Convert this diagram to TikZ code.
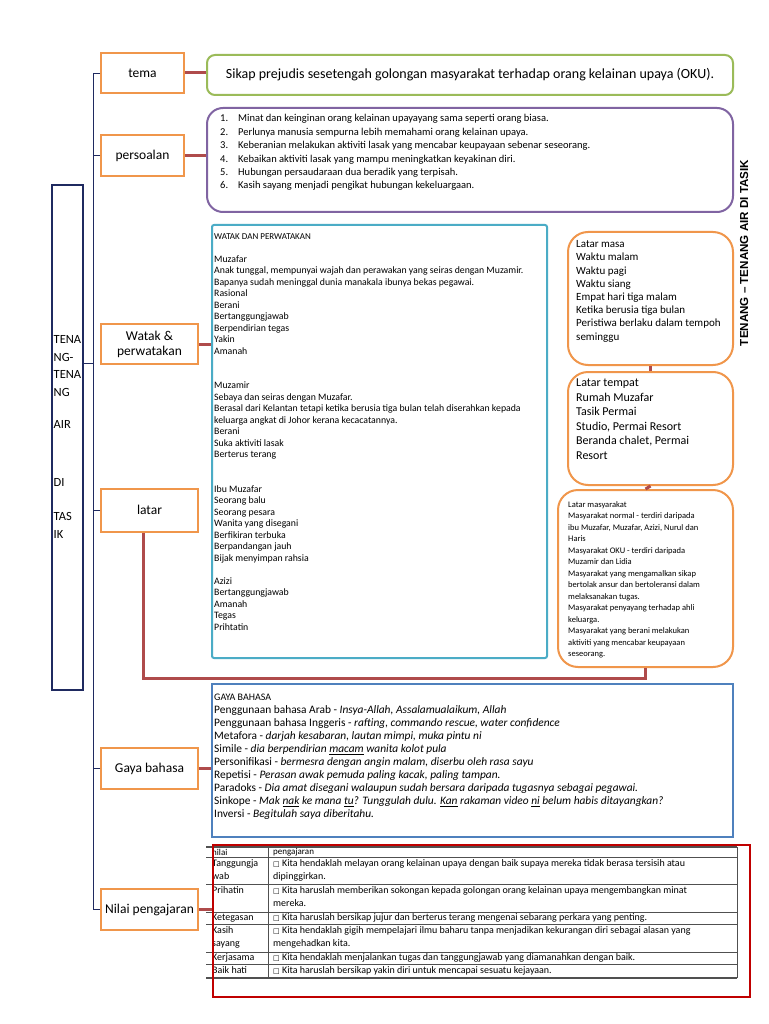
\documentclass[tikz,border=0pt]{standalone}
\usepackage{fontspec}
\setmainfont{Carlito}
\newfontfamily\arialb{Liberation Sans}
\newfontfamily\dvs{DejaVu Sans}
\definecolor{orC}{RGB}{240,150,75}
\definecolor{grC}{RGB}{155,187,89}
\definecolor{puC}{RGB}{128,100,162}
\definecolor{teC}{RGB}{75,172,198}
\definecolor{blC}{RGB}{79,129,189}
\definecolor{rdC}{RGB}{192,0,0}
\definecolor{mrC}{RGB}{175,75,75}
\definecolor{nvC}{RGB}{31,42,96}
\definecolor{tgC}{RGB}{80,80,80}
\newcommand{\sqb}{{\dvs\fontsize{7}{7}\selectfont □}}
\begin{document}
\begin{tikzpicture}[x=1pt,y=-1pt,
 obox/.style={draw=orC,line width=2pt,inner sep=0pt,align=center,font=\fontsize{13.5}{15}\selectfont},
 stub/.style={draw=mrC,line width=3pt},
 navl/.style={draw=nvC,line width=0.8pt},
 txt/.style={inner sep=0pt,anchor=north west,align=left},
 cell/.style={inner sep=0pt,anchor=west,font=\fontsize{10}{13}\selectfont},
 cell2/.style={inner sep=0pt,anchor=north west,align=left,font=\fontsize{10}{13}\selectfont},
 tline/.style={draw=tgC,line width=0.8pt},
 ]
\useasboundingbox (0,0) rectangle (768,1024);
\fill[white] (0,0) rectangle (768,1024);

% left title box
\node[draw=nvC,line width=2.5pt,minimum width=31pt,minimum height=505pt,inner sep=0pt] (tt) at (67.5,437.5) {};
\node[txt,font=\fontsize{12.5}{17.5}\selectfont] (ttx) at (53.5,335.5) {TENA\\NG-\\TENA\\NG\\[15pt]AIR\\[40.5pt]DI\\[16.5pt]TAS\\IK};

% orange category boxes
\node[obox,minimum width=83pt,minimum height=40pt] (tema) at (142.5,73) {tema};
\node[obox,minimum width=83pt,minimum height=41pt] (pers) at (142.5,155.5) {persoalan};
\node[obox,minimum width=97pt,minimum height=40pt] (watak) at (149.5,344) {Watak \&\\perwatakan};
\node[obox,minimum width=97pt,minimum height=43pt] (latar) at (149.5,510) {latar};
\node[obox,minimum width=97pt,minimum height=41pt] (gaya) at (149.5,768.5) {Gaya bahasa};
\node[obox,minimum width=97pt,minimum height=41pt] (nilai) at (149.5,909.5) {Nilai pengajaran};

% content boxes
\node[draw=grC,line width=2pt,rounded corners=8pt,minimum width=526pt,minimum height=40pt,inner sep=0pt,font=\fontsize{14}{16}\selectfont] (temabox) at (470,75) {Sikap prejudis sesetengah golongan masyarakat terhadap orang kelainan upaya (OKU).};
\node[draw=puC,line width=2pt,rounded corners=16pt,minimum width=526pt,minimum height=104pt,inner sep=0pt] (persbox) at (470,160) {};
\node[draw=teC,line width=2pt,rounded corners=2pt,minimum width=335pt,minimum height=433pt,inner sep=0pt] (watbox) at (379.5,441.5) {};
\node[draw=orC,line width=2pt,rounded corners=20pt,minimum width=165pt,minimum height=133pt,inner sep=0pt] (masa) at (650.5,298.5) {};
\node[draw=orC,line width=2pt,rounded corners=20pt,minimum width=165pt,minimum height=113pt,inner sep=0pt] (tempat) at (650.5,428.5) {};
\node[draw=orC,line width=2pt,rounded corners=20pt,minimum width=175pt,minimum height=177pt,inner sep=0pt] (masy) at (645.5,578.5) {};
\node[draw=blC,line width=1.5pt,minimum width=521pt,minimum height=153pt,inner sep=0pt] (gayabox) at (472.5,760.5) {};

% vertical title
\node[rotate=90,inner sep=0pt,font=\arialb\bfseries\fontsize{11.6}{13}\selectfont] (vt) at (744,253) {TENANG – TENANG AIR DI TASIK};

% persoalan list
\node[txt,font=\fontsize{10.5}{13.4}\selectfont] (plist) at (220,114.5) {%
\makebox[18pt][l]{1.}Minat dan keinginan orang kelainan upayayang sama seperti orang biasa.\\
\makebox[18pt][l]{2.}Perlunya manusia sempurna lebih memahami orang kelainan upaya.\\
\makebox[18pt][l]{3.}Keberanian melakukan aktiviti lasak yang mencabar keupayaan sebenar seseorang.\\
\makebox[18pt][l]{4.}Kebaikan aktiviti lasak yang mampu meningkatkan keyakinan diri.\\
\makebox[18pt][l]{5.}Hubungan persaudaraan dua beradik yang terpisah.\\
\makebox[18pt][l]{6.}Kasih sayang menjadi pengikat hubungan kekeluargaan.};

% watak text
\node[txt,font=\fontsize{9.8}{11.5}\selectfont] (wtext) at (214,233.5) {%
{\fontsize{9}{11.5}\selectfont WATAK DAN PERWATAKAN}\\ \mbox{}\\
Muzafar\\
Anak tunggal, mempunyai wajah dan perawakan yang seiras dengan Muzamir.\\
Bapanya sudah meninggal dunia manakala ibunya bekas pegawai.\\
Rasional\\ Berani\\ Bertanggungjawab\\ Berpendirian tegas\\ Yakin\\ Amanah\\ \mbox{}\\ \mbox{}\\
Muzamir\\
Sebaya dan seiras dengan Muzafar.\\
Berasal dari Kelantan tetapi ketika berusia tiga bulan telah diserahkan kepada\\
keluarga angkat di Johor kerana kecacatannya.\\
Berani\\ Suka aktiviti lasak\\ Berterus terang\\ \mbox{}\\ \mbox{}\\
Ibu Muzafar\\ Seorang balu\\ Seorang pesara\\ Wanita yang disegani\\ Berfikiran terbuka\\ Berpandangan jauh\\ Bijak menyimpan rahsia\\ \mbox{}\\
Azizi\\ Bertanggungjawab\\ Amanah\\ Tegas\\ Prihtatin};

% latar texts
\node[txt,font=\fontsize{11}{13.2}\selectfont] (masatext) at (576,240.5) {Latar masa\\Waktu malam\\Waktu pagi\\Waktu siang\\Empat hari tiga malam\\Ketika berusia tiga bulan\\Peristiwa berlaku dalam tempoh\\seminggu};
\node[txt,font=\fontsize{12}{14.5}\selectfont] (tempattext) at (576,379) {Latar tempat\\Rumah Muzafar\\Tasik Permai\\Studio, Permai Resort\\Beranda chalet, Permai\\Resort};
\node[txt,font=\fontsize{8.5}{11.5}\selectfont] (masytext) at (568,501) {Latar masyarakat\\
Masyarakat normal - terdiri daripada\\
ibu Muzafar, Muzafar, Azizi, Nurul dan\\
Haris\\
Masyarakat OKU - terdiri daripada\\
Muzamir dan Lidia\\
Masyarakat yang mengamalkan sikap\\
bertolak ansur dan bertoleransi dalam\\
melaksanakan tugas.\\
Masyarakat penyayang terhadap ahli\\
keluarga.\\
Masyarakat yang berani melakukan\\
aktiviti yang mencabar keupayaan\\
seseorang.};

% gaya bahasa text
\node[txt,font=\fontsize{11.4}{13}\selectfont] (gtext) at (214,694) {%
{\fontsize{10}{13}\selectfont GAYA BAHASA}\\
Penggunaan bahasa Arab - \textit{Insya-Allah, Assalamualaikum, Allah}\\
Penggunaan bahasa Inggeris - \textit{rafting, commando rescue, water confidence}\\
Metafora - \textit{darjah kesabaran, lautan mimpi, muka pintu ni}\\
Simile - \textit{dia berpendirian \underline{macam} wanita kolot pula}\\
Personifikasi - \textit{bermesra dengan angin malam, diserbu oleh rasa sayu}\\
Repetisi - \textit{Perasan awak pemuda paling kacak, paling tampan.}\\
Paradoks - \textit{Dia amat disegani walaupun sudah bersara daripada tugasnya sebagai pegawai.}\\
Sinkope - \textit{Mak \underline{nak} ke mana \underline{tu}? Tunggulah dulu. \underline{Kan} rakaman video \underline{ni} belum habis ditayangkan?}\\
Inversi - \textit{Begitulah saya diberitahu.}};

% table
\draw[tline,line width=1.1pt] (206,847) -- (737,847);
\foreach \yy in {857,884,912,924,952,964} {\draw[tline] (206,\yy) -- (737,\yy);}
\draw[tline,line width=1.1pt] (206,978) -- (737,978);
\draw[tline] (268,847) -- (268,978);
\draw[tline] (737,847) -- (737,978);

\node[cell,font=\fontsize{9}{11}\selectfont] (h1) at (212,852.5) {nilai};
\node[cell,font=\fontsize{9}{11}\selectfont] (h2) at (273,852.5) {pengajaran};
\node[cell2] (r1a) at (212,859) {Tanggungja\\wab};
\node[cell2] (r1b) at (273,859) {\sqb\ Kita hendaklah melayan orang kelainan upaya dengan baik supaya mereka tidak berasa tersisih atau\\dipinggirkan.};
\node[cell2] (r2a) at (212,886) {Prihatin};
\node[cell2] (r2b) at (273,886) {\sqb\ Kita haruslah memberikan sokongan kepada golongan orang kelainan upaya mengembangkan minat\\mereka.};
\node[cell] (r3a) at (212,918) {Ketegasan};
\node[cell] (r3b) at (273,918) {\sqb\ Kita haruslah bersikap jujur dan berterus terang mengenai sebarang perkara yang penting.};
\node[cell2] (r4a) at (212,926) {Kasih\\sayang};
\node[cell2] (r4b) at (273,926) {\sqb\ Kita hendaklah gigih mempelajari ilmu baharu tanpa menjadikan kekurangan diri sebagai alasan yang\\mengehadkan kita.};
\node[cell] (r5a) at (212,958) {Kerjasama};
\node[cell] (r5b) at (273,958) {\sqb\ Kita hendaklah menjalankan tugas dan tanggungjawab yang diamanahkan dengan baik.};
\node[cell] (r6a) at (212,970.5) {Baik hati};
\node[cell] (r6b) at (273,970.5) {\sqb\ Kita haruslah bersikap yakin diri untuk mencapai sesuatu kejayaan.};

\node[draw=rdC,line width=2.5pt,minimum width=537pt,minimum height=152pt,inner sep=0pt] (redbox) at (481.5,921) {};

% navy tree lines
\coordinate (vx) at (93,0);
\coordinate (ttj) at ([yshift=74.5pt]tt.east);
\draw[navl] (tema.west) -| (vx |- nilai.west) -- (nilai.west);
\draw[navl] (pers.west) -- (pers.west -| vx);
\draw[navl] (latar.west) -- (latar.west -| vx);
\draw[navl] (gaya.west) -- (gaya.west -| vx);
\draw[navl] (ttj) -- (ttj -| vx);

% maroon connectors
\draw[stub] (tema.east) -- (tema.east -| temabox.west);
\draw[stub] (pers.east) -- (pers.east -| persbox.west);
\draw[stub] (watak.east) -- (watak.east -| watbox.west);
\draw[stub] (gaya.east) -- (gaya.east -| gayabox.west);
\draw[stub] (nilai.east) -- (nilai.east -| redbox.west);
\draw[stub] (masa.south) -- (tempat.north);
\draw[stub] (tempat.south) -- (masy.north);
\coordinate (lc) at (645.5,678);
\draw[stub] ([xshift=-6pt]latar.south) |- (lc) -- (masy.south);
\end{tikzpicture}
\end{document}
